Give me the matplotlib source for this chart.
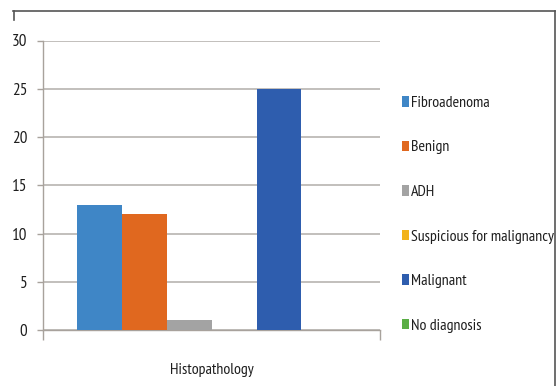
import matplotlib
matplotlib.use("Agg")
import matplotlib.pyplot as plt
from matplotlib.lines import Line2D
from matplotlib.patches import Patch

plt.rcParams['font.family'] = ['PT Sans Narrow', 'DejaVu Sans']

category = "Histopathology"
series = ["Fibroadenoma", "Benign", "ADH", "Suspicious for malignancy",
          "Malignant", "No diagnosis"]
values = [13, 12, 1, 0, 25, 0]
colors = ["#3F86C6", "#E0681F", "#A3A3A3", "#F2B21A", "#2E5DAE", "#5AAE45"]
yticks = [0, 5, 10, 15, 20, 25, 30]

fs = 11.4
fig = plt.figure(figsize=(5.56, 3.86), dpi=100)
W, H = 556, 386
ax = fig.add_axes([43.3 / W, (H - 330) / H, (380 - 43.3) / W, (330 - 40.5) / H])

n = len(series)
gap = 1.5
w = 1.0 / (n + gap)
start = -0.5 + gap * w / 2
for i, (name, v, c) in enumerate(zip(series, values, colors)):
    ax.bar(start + (i + 0.5) * w, v, width=w, color=c, zorder=3)

ax.set_xlim(-0.5, 0.5)
ax.set_ylim(0, 30)
ax.set_yticks(yticks)
ax.yaxis.grid(True, color="#BDBAB6", linewidth=1.3, zorder=0)
ax.set_axisbelow(True)

for s in ["top", "right"]:
    ax.spines[s].set_visible(False)
for s in ["left", "bottom"]:
    ax.spines[s].set_color("#A8A29C")
    ax.spines[s].set_linewidth(1.0)

ax.tick_params(axis="y", length=4, width=1.0, color="#A8A29C", pad=7.4,
               labelsize=12.3, labelcolor="#1E1E1E")
ax.set_xticks([-0.5, 0.5])
ax.set_xticklabels(["", ""])
ax.tick_params(axis="x", which="major", length=7, width=1.0, color="#A8A29C")
ax.set_xticks([0], minor=True)
ax.set_xticklabels([category], minor=True)
ax.tick_params(axis="x", which="minor", length=0, pad=24,
               labelsize=fs, labelcolor="#1E1E1E")

handles = [Patch(facecolor=c, edgecolor="none") for c in colors]
fig.legend(handles, series, loc="upper left",
           bbox_to_anchor=(395.5 / W, 1 - 89.5 / H), frameon=False,
           fontsize=fs, handlelength=0.46, handleheight=0.64,
           handletextpad=0.12, labelspacing=1.93, borderaxespad=0,
           labelcolor="#1E1E1E")

# outer frame
fig.add_artist(Line2D([13 / W, 554.5 / W], [1 - 11 / H, 1 - 11 / H],
                      transform=fig.transFigure, color="#555555", lw=1.2))
fig.add_artist(Line2D([554.5 / W, 554.5 / W], [1 - 11 / H, 0],
                      transform=fig.transFigure, color="#555555", lw=1.2))
fig.add_artist(Line2D([13.5 / W, 13.5 / W], [1 - 11 / H, 1 - 20 / H],
                      transform=fig.transFigure, color="#555555", lw=1.2))

fig.savefig("out.png", dpi=100)
